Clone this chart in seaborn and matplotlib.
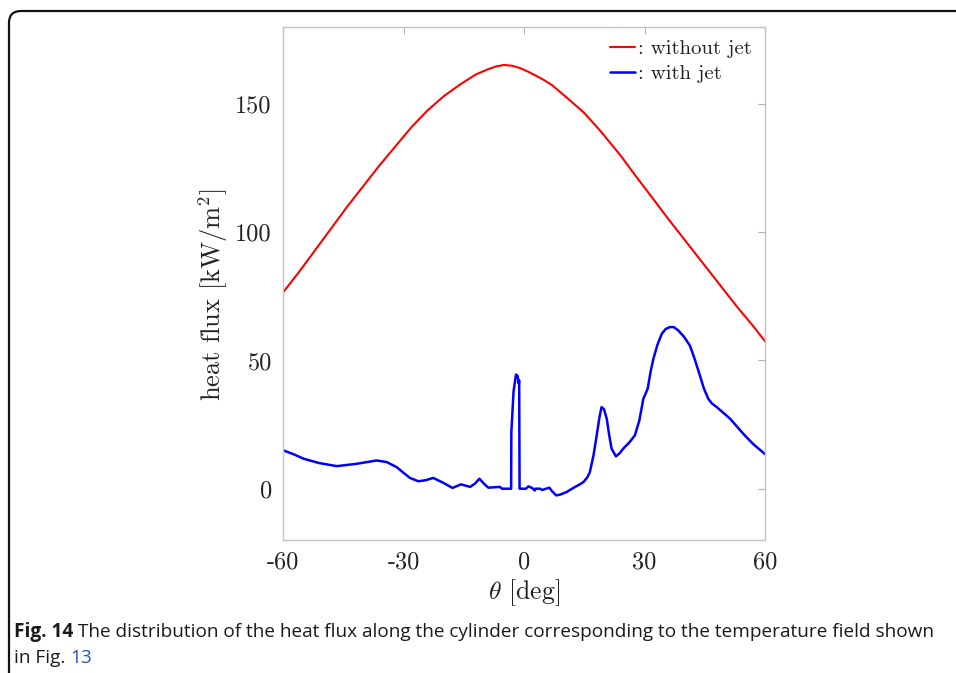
import matplotlib
matplotlib.use("Agg")
import matplotlib.pyplot as plt
import matplotlib.patches as mpatches
import matplotlib.transforms as mtrans
from matplotlib import font_manager
import seaborn as sns
import pandas as pd

# ---------------- data ----------------
red_theta = [-60, -56, -52, -48, -44, -40, -36, -32, -28, -24, -20, -16, -12, -9, -7, -5, -3,
             -1, 1, 3, 5, 7, 11, 15, 19, 24, 28, 32, 36, 40, 44, 49, 53, 57, 60]
red_flux = [76.5, 84.5, 93, 101.5, 110, 118, 126, 133.5, 141, 147.5, 153, 157.5, 161.5, 163.5,
            164.6, 165.2, 164.9, 164.0, 162.6, 161.0, 159.3, 157.3, 152, 146.5, 139.5, 130,
            121.5, 113.3, 105, 97, 89, 79, 71, 63.5, 57.5]

blue_theta = [-60, -57, -54.9, -51, -46.6, -41.7, -36.7, -34.2, -31.7, -30, -28.4, -26.3,
              -24.5, -22.6, -20.1, -17.8, -15.7, -13.4, -12.2, -11.1, -10, -8.9, -6.0, -5.5,
              -3.2, -3.15, -2.6, -2.0, -1.6, -1.3, -1.2, -1.1, 0.5, 1.1, 2.0, 2.7, 2.8, 4.0,
              4.5, 5.5, 6.3, 7.0, 8.0, 9.0, 10.6, 12.5, 13.9, 14.8, 15.8, 16.4, 17.3, 18.1,
              18.8, 19.3, 19.9, 20.6, 21.2, 21.8, 22.9, 23.8, 24.7, 26.2, 27.6, 28.7, 29.7,
              30.8, 31.5, 32.2, 33.2, 34.3, 35.3, 36.3, 37.3, 38.4, 39.8, 41.3, 42.5, 43.8,
              44.8, 45.9, 46.8, 48.0, 51.3, 54.6, 57.0, 60.0]
blue_flux = [15, 13.2, 11.7, 10, 8.8, 9.7, 11.0, 10.4, 8.4, 6.2, 4.2, 2.9,
             3.3, 4.2, 2.3, 0.3, 1.7, 0.7, 2.0, 3.9, 2.0, 0.4, 0.7, 0.0,
             0.0, 22, 38, 44.5, 44, 41, 42.2, 0, 0, 0.9, 0.3, -0.7, 0, 0,
             -0.5, 0, 0.4, -1, -2.6, -2.3, -1.3, 0.5, 1.7, 2.6, 4.5, 6.5, 13.0, 20.8,
             28.0, 31.8, 31.0, 27.3, 21.0, 15.6, 12.6, 13.8, 15.6, 18.0, 20.8, 26.5, 35,
             39, 45.5, 50.6, 56.0, 60.4, 62.3, 63, 63.0, 61.7, 59.3, 55.8, 50.5, 44.1,
             39.0, 35, 33.2, 31.8, 27.3, 21.4, 17.5, 13.5]

series_labels = [": without jet", ": with jet"]
x_ticks = [-60, -30, 0, 30, 60]
y_ticks = [0, 50, 100, 150]

# ---------------- style ----------------
sns.set_theme(style="white")
plt.rcParams["font.family"] = ["cmr10", "DejaVu Serif"]
plt.rcParams["mathtext.fontset"] = "cm"
plt.rcParams["axes.unicode_minus"] = False
plt.rcParams["axes.formatter.use_mathtext"] = True

W, H = 956, 673
fig = plt.figure(figsize=(W / 100, H / 100), dpi=100)
ax = fig.add_axes([283 / W, 1 - 540 / H, (765 - 283) / W, (540 - 27) / H])

df_red = pd.DataFrame({"theta": red_theta, "flux": red_flux})
df_blue = pd.DataFrame({"theta": blue_theta, "flux": blue_flux})
sns.lineplot(data=df_red, x="theta", y="flux", ax=ax, color="#ff0000", lw=1.5,
             estimator=None, sort=False, label=series_labels[0])
sns.lineplot(data=df_blue, x="theta", y="flux", ax=ax, color="#0000ff", lw=1.8,
             estimator=None, sort=False, label=series_labels[1])

ax.set_xlim(-60, 60)
ax.set_ylim(-20, 180)
ax.set_xticks(x_ticks)
ax.set_xticklabels([str(v) for v in x_ticks])
ax.set_yticks(y_ticks)
ax.set_yticklabels([str(v) for v in y_ticks])
ax.tick_params(direction="in", length=5, width=0.8, color="#b5b5b5",
               top=True, right=True, labelsize=17.5, pad=8, labelcolor="#222222")
for s in ax.spines.values():
    s.set_color("#c4c4c4")
    s.set_linewidth(1.0)

ax.set_xlabel(r"$\theta$ [deg]", fontsize=18.5, labelpad=3, color="#222222")
ax.set_ylabel(r"heat flux [kW/m$^2$]", fontsize=19, color="#222222")
ax.yaxis.set_label_coords((230 - 283) / 482, (540 - 295) / 513)

leg = ax.legend(loc="upper right", bbox_to_anchor=(1.0, 1.002), frameon=False, fontsize=15,
                handlelength=1.2, handletextpad=0.15, labelspacing=0.3,
                borderaxespad=0.25)
for t in leg.get_texts():
    t.set_color("#222222")

# ---------------- frame ----------------
frame = mpatches.FancyBboxPatch((9, -60), 1100, H - 11 + 60, boxstyle="round,pad=0,rounding_size=12",
                                transform=mtrans.IdentityTransform(), fill=False,
                                edgecolor="#111111", linewidth=1.6)
fig.add_artist(frame)

# ---------------- caption ----------------
avail = {f.name for f in font_manager.fontManager.ttflist}
cap_font = [f for f in ["Liberation Sans Narrow", "Open Sans", "DejaVu Sans"] if f in avail]
fs = 14
renderer = fig.canvas.get_renderer()
target_w = 937 - 14
for _ in range(4):
    t1 = fig.text(14 / W, 1 - 632 / H, "Fig. 14", fontsize=fs, fontweight="bold",
                  family=cap_font, va="center", ha="left", color="#1a1a1a")
    w1 = t1.get_window_extent(renderer).width
    t2 = fig.text((14 + w1) / W, 1 - 632 / H,
                  " The distribution of the heat flux along the cylinder corresponding to the temperature field shown",
                  fontsize=fs, family=cap_font, va="center", ha="left", color="#1a1a1a")
    w2 = t2.get_window_extent(renderer).width
    total = w1 + w2
    if abs(total - target_w) < 3:
        break
    t1.remove(); t2.remove()
    fs = fs * target_w / total

t3 = fig.text(14 / W, 1 - 658 / H, "in Fig. ", fontsize=fs, family=cap_font,
              va="center", ha="left", color="#1a1a1a")
w3 = t3.get_window_extent(renderer).width
fig.text((14 + w3) / W, 1 - 658 / H, "13", fontsize=fs, family=cap_font,
         va="center", ha="left", color="#2255cc")

fig.savefig("out.png", dpi=100)
